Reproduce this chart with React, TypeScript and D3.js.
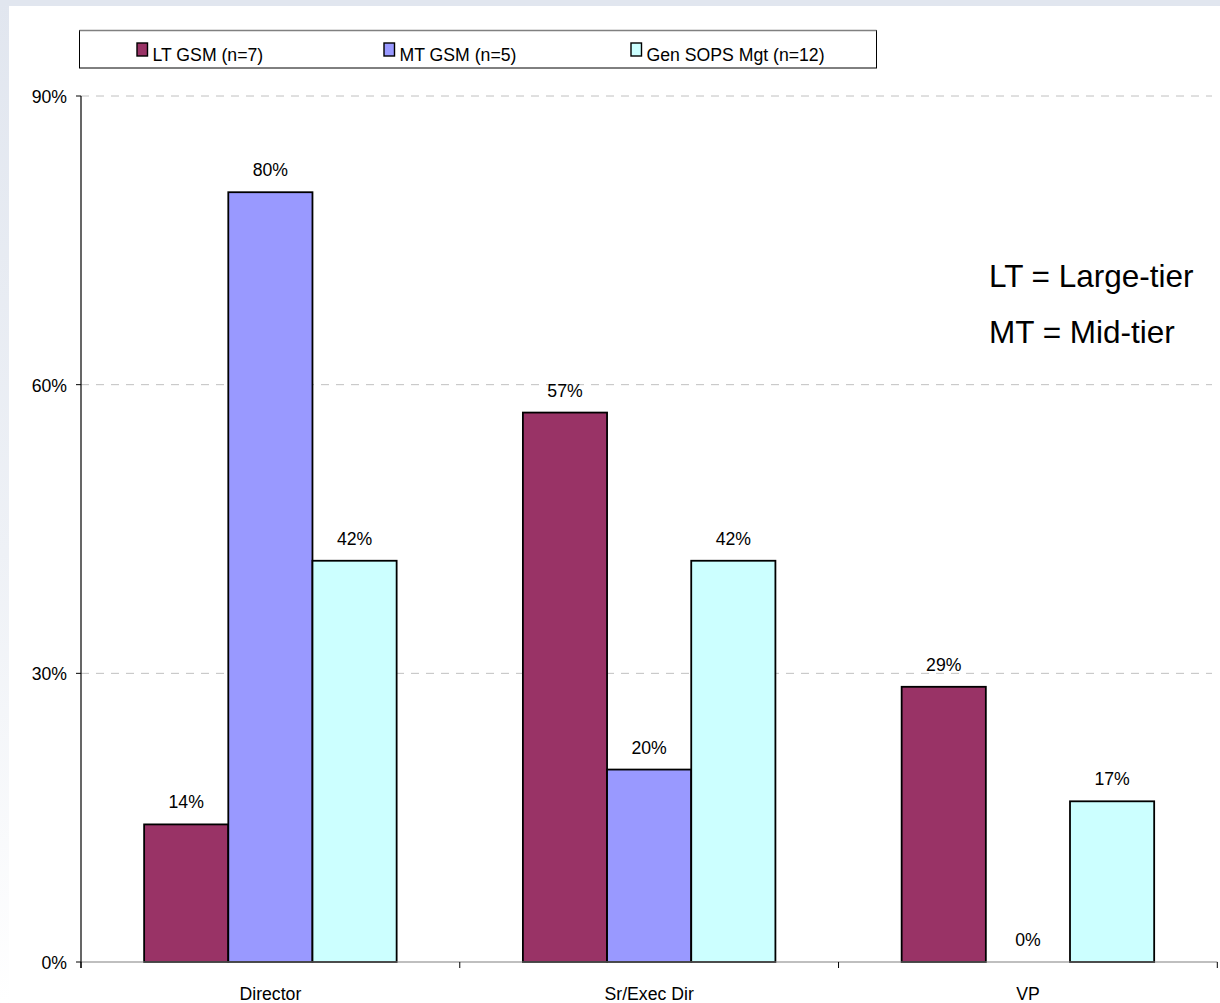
import React from "react";
import * as d3 from "d3";

// Chart data
const categories = ["Director", "Sr/Exec Dir", "VP"];
const seriesNames = ["LT GSM (n=7)", "MT GSM (n=5)", "Gen SOPS Mgt (n=12)"];
const ltGsm = [0.143, 0.571, 0.286];
const mtGsm = [0.8, 0.2, 0];
const genSops = [0.417, 0.417, 0.167];
const seriesColors = ["#993366", "#9999FF", "#CCFFFF"];
const yTicks = [0, 0.3, 0.6, 0.9];
const notes = ["LT = Large-tier", "MT = Mid-tier"];

const seriesValues = [ltGsm, mtGsm, genSops];

const W = 1220;
const H = 1003;
const plotLeft = 81;
const plotRight = 1217.3;
const plotTop = 96;
const plotBottom = 962;
const FONT = "'Liberation Sans', Arial, sans-serif";

// Small text is drawn slightly narrow, like the original Arial rendering
type LabelProps = {
  x: number;
  y: number;
  anchor?: "start" | "middle" | "end";
  size?: number;
  children: React.ReactNode;
};
function Label({ x, y, anchor = "start", size = 19, children }: LabelProps) {
  return (
    <text
      transform={`translate(${x},${y}) scale(0.93,1)`}
      textAnchor={anchor}
      fontSize={size}
      fill="#000"
    >
      {children}
    </text>
  );
}

export default function App() {
  const x0 = d3.scaleBand<string>().domain(categories).range([plotLeft, plotRight]).padding(0);
  const x1 = d3
    .scaleBand<string>()
    .domain(seriesNames)
    .range([0, x0.bandwidth()])
    .paddingInner(0)
    .paddingOuter(0.75);
  const y = d3.scaleLinear().domain([0, 0.9]).range([plotBottom, plotTop]);
  const fmt = d3.format(".0%");

  const legendX = [137, 384, 631];

  return (
    <svg
      width={W}
      height={H}
      style={{ position: "absolute", left: 0, top: 0, display: "block" }}
      fontFamily={FONT}
    >
      <defs>
        <linearGradient id="edge" x1="0" y1="0" x2="0" y2="1">
          <stop offset="0" stopColor="#e1e6ef" />
          <stop offset="0.55" stopColor="#eef1f6" />
          <stop offset="1" stopColor="#ffffff" />
        </linearGradient>
      </defs>
      <rect x={0} y={0} width={W} height={H} fill="url(#edge)" />
      <rect x={0} y={0} width={W} height={6} fill="#e1e6ef" />
      <rect x={9} y={6} width={W - 9} height={H - 6} fill="#ffffff" />

      {/* gridlines */}
      {yTicks
        .filter((t) => t > 0)
        .map((t) => (
          <line
            key={t}
            x1={plotLeft}
            x2={1212}
            y1={y(t)}
            y2={y(t)}
            stroke="#c0c0c0"
            strokeWidth={1}
            strokeDasharray="8,7"
          />
        ))}

      {/* bars */}
      {categories.map((c, ci) => (
        <g key={c} transform={`translate(${x0(c)},0)`}>
          {seriesNames.map((s, si) => {
            const v = seriesValues[si][ci];
            const bx = x1(s)!;
            return (
              <g key={s}>
                {v > 0 && (
                  <rect
                    x={bx}
                    y={y(v)}
                    width={x1.bandwidth()}
                    height={plotBottom - y(v)}
                    fill={seriesColors[si]}
                    stroke="#000"
                    strokeWidth={1.8}
                  />
                )}
                <Label x={bx + x1.bandwidth() / 2} y={y(v) - 16} anchor="middle">
                  {fmt(v)}
                </Label>
              </g>
            );
          })}
        </g>
      ))}

      {/* x axis */}
      <line x1={plotLeft} x2={plotRight} y1={plotBottom} y2={plotBottom} stroke="#808080" strokeWidth={1.2} />
      {[...categories.map((c) => x0(c)!), plotRight].map((tx, i) => (
        <line key={i} x1={tx} x2={tx} y1={plotBottom} y2={plotBottom + 6} stroke="#000" strokeWidth={1} />
      ))}
      {categories.map((c) => (
        <Label key={c} x={x0(c)! + x0.bandwidth() / 2} y={1000} anchor="middle">
          {c}
        </Label>
      ))}

      {/* y axis */}
      <line x1={plotLeft} x2={plotLeft} y1={plotTop} y2={plotBottom + 6} stroke="#000" strokeWidth={1.2} />
      {yTicks.map((t) => (
        <g key={t}>
          <line x1={plotLeft - 5} x2={plotLeft} y1={y(t)} y2={y(t)} stroke="#000" strokeWidth={1} />
          <Label x={67} y={y(t) + 7} anchor="end">
            {fmt(t)}
          </Label>
        </g>
      ))}

      {/* legend */}
      <rect x={79.5} y={30.5} width={797} height={37.5} fill="#fff" stroke="#000" strokeWidth={1} />
      <line x1={79.5} x2={876.5} y1={30.5} y2={30.5} stroke="#808080" strokeWidth={1.5} />
      {seriesNames.map((s, i) => (
        <g key={s}>
          <rect
            x={legendX[i]}
            y={43}
            width={10.5}
            height={13}
            fill={seriesColors[i]}
            stroke="#000"
            strokeWidth={1.4}
          />
          <Label x={legendX[i] + 15.5} y={60.5}>
            {s}
          </Label>
        </g>
      ))}

      {/* abbreviation notes */}
      {notes.map((n, i) => (
        <text key={n} x={989} y={287 + i * 56} fontSize={31.5} fill="#000">
          {n}
        </text>
      ))}
    </svg>
  );
}
